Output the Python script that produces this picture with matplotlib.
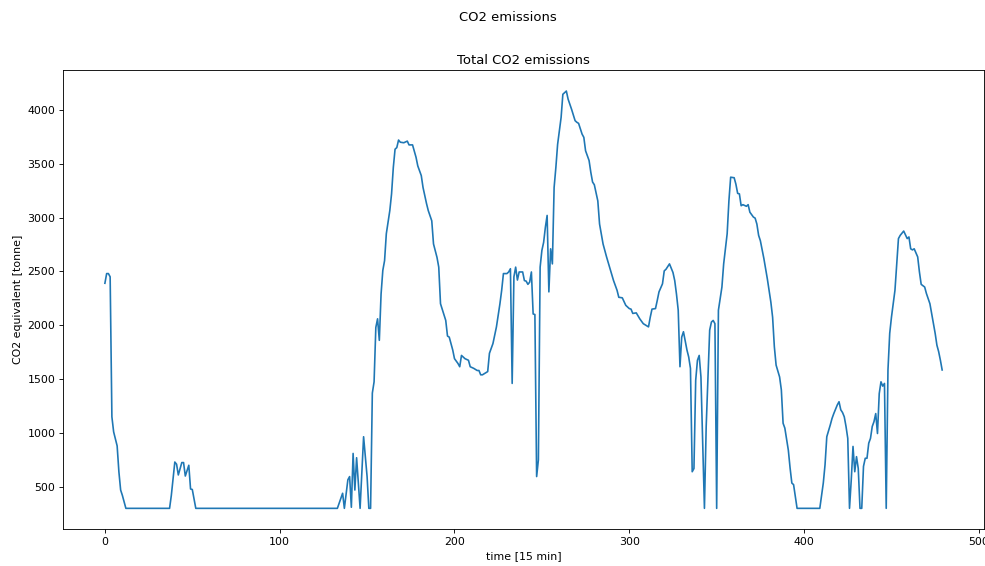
import numpy as np
import matplotlib
matplotlib.use('Agg')
from matplotlib import pyplot as plt

# time index (15 min steps) and total CO2, in pieces
t_a   = [0, 1, 2, 3, 4, 5, 7, 8, 9, 10, 12]
co2_a = [2390, 2480, 2480, 2450, 1150, 1010, 880, 640, 470, 420, 300]

t_b   = [37, 38, 40, 41, 42, 44, 45, 46, 48, 49, 50, 52]
co2_b = [300, 420, 730, 710, 610, 725, 725, 600, 700, 480, 475, 300]

t_c   = [133, 136, 137, 139, 140, 141, 142, 143, 144, 146, 148, 150, 151, 152]
co2_c = [300, 440, 300, 565, 595, 310, 810, 470, 770, 300, 965, 595, 300, 300]

t_d   = [153, 154, 155, 156, 157, 158, 159, 160, 161, 163, 164, 165, 166, 167, 168]
co2_d = [1370, 1475, 1980, 2060, 1860, 2290, 2510, 2600, 2850, 3065, 3220, 3465, 3635, 3650, 3720]

t_e   = [169, 171, 173, 174, 176, 178, 179, 181, 182, 184, 185, 187, 188, 190, 191]
co2_e = [3700, 3695, 3710, 3675, 3675, 3560, 3480, 3390, 3280, 3130, 3065, 2970, 2755, 2630, 2540]

t_f   = [192, 195, 196, 197, 199, 200, 202, 203, 204, 206, 208, 209, 211, 213, 214]
co2_f = [2200, 2045, 1900, 1890, 1770, 1690, 1645, 1615, 1720, 1690, 1675, 1615, 1600, 1580, 1580]

t_g   = [215, 216, 218, 219, 220, 222, 224, 226, 227, 228, 230, 231, 232, 233]
co2_g = [1540, 1540, 1560, 1570, 1740, 1830, 1985, 2200, 2325, 2480, 2480, 2495, 2525, 1460]

t_h   = [234, 235, 236, 237, 239, 240, 241, 242, 243, 244, 245, 246, 247, 248]
co2_h = [2450, 2540, 2420, 2495, 2495, 2415, 2410, 2380, 2400, 2495, 2105, 2100, 595, 750]

t_i   = [249, 250, 251, 252, 253, 254, 255, 256, 257, 258, 259, 261, 262, 263, 264]
co2_i = [2540, 2695, 2770, 2910, 3020, 2310, 2710, 2570, 3280, 3465, 3680, 3930, 4145, 4160, 4175]

t_j   = [265, 267, 269, 270, 271, 273, 274, 275, 277, 278, 279, 280, 282, 283, 285]
co2_j = [4100, 4005, 3900, 3885, 3875, 3775, 3745, 3620, 3530, 3420, 3330, 3305, 3155, 2940, 2755]

t_k   = [287, 289, 291, 293, 294, 296, 298, 300, 301, 302, 304, 306, 308, 309, 311]
co2_k = [2635, 2525, 2415, 2325, 2260, 2255, 2185, 2155, 2150, 2110, 2115, 2060, 2015, 2005, 1985]

t_l   = [312, 313, 315, 316, 317, 319, 320, 321, 323, 325, 326, 327, 328, 329]
co2_l = [2075, 2150, 2155, 2230, 2310, 2385, 2505, 2520, 2570, 2490, 2415, 2290, 2140, 1615]

t_m   = [330, 331, 333, 334, 335, 336, 337, 338, 339, 340, 341, 342, 343, 344]
co2_m = [1890, 1940, 1770, 1705, 1600, 640, 670, 1490, 1675, 1720, 1520, 905, 300, 1060]

t_n   = [346, 347, 348, 349, 350, 351, 353, 354, 356, 357, 358, 360, 361, 362]
co2_n = [1955, 2030, 2045, 2015, 300, 2140, 2355, 2570, 2850, 3155, 3375, 3370, 3310, 3225]

t_o   = [363, 364, 365, 367, 368, 369, 371, 372, 373, 374, 375, 377, 379, 381]
co2_o = [3220, 3110, 3120, 3105, 3120, 3050, 3005, 2995, 2940, 2835, 2785, 2620, 2430, 2215]

t_p   = [382, 383, 384, 386, 387, 388, 389, 391, 392, 393, 394, 395, 396]
co2_p = [2075, 1800, 1630, 1520, 1400, 1090, 1045, 840, 675, 535, 520, 410, 300]

t_q   = [409, 411, 412, 413, 415, 416, 417, 419, 420, 421, 422, 423, 424, 425]
co2_q = [300, 535, 705, 965, 1075, 1135, 1180, 1260, 1290, 1215, 1190, 1150, 1060, 950]

t_r   = [426, 427, 428, 429, 430, 431, 432, 433, 434, 435, 436, 437, 438, 439]
co2_r = [300, 565, 875, 640, 780, 670, 300, 300, 690, 765, 765, 905, 950, 1060]

t_s   = [440, 441, 442, 443, 444, 445, 446, 447, 448, 449, 450, 452, 453, 454]
co2_s = [1105, 1180, 995, 1365, 1475, 1435, 1460, 300, 1585, 1925, 2075, 2325, 2570, 2805]

t_u   = [455, 457, 458, 459, 460, 461, 462, 463, 465, 466, 467, 469, 470, 472]
co2_u = [2835, 2875, 2840, 2805, 2820, 2710, 2700, 2710, 2635, 2495, 2380, 2355, 2295, 2200]

t_v   = [473, 474, 475, 476, 477, 478, 479]
co2_v = [2110, 2015, 1925, 1815, 1755, 1675, 1585]

t = (t_a + t_b + t_c + t_d + t_e + t_f + t_g + t_h + t_i + t_j + t_k
     + t_l + t_m + t_n + t_o + t_p + t_q + t_r + t_s + t_u + t_v)
co2 = (co2_a + co2_b + co2_c + co2_d + co2_e + co2_f + co2_g + co2_h + co2_i
       + co2_j + co2_k + co2_l + co2_m + co2_n + co2_o + co2_p + co2_q + co2_r
       + co2_s + co2_u + co2_v)

# reference looks like a larger figure drawn at a lower dpi
dpi = 79
fig = plt.figure(figsize=(985 / dpi, 566 / dpi), dpi=dpi)
ax = fig.add_subplot(111)
ax.plot(t, co2)
ax.set_title('Total CO2 emissions')
ax.set_xlabel('time [15 min]')
ax.set_ylabel('CO2 equivalent [tonne]')
fig.suptitle('CO2 emissions', x=0.516)
fig.subplots_adjust(left=0.064, right=0.999, top=0.876, bottom=0.065)
fig.savefig('out.png', dpi=dpi)
